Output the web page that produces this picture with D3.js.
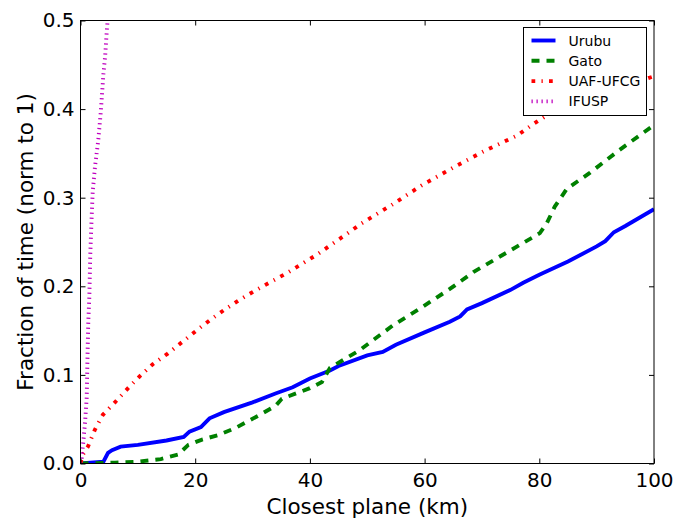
<!DOCTYPE html>
<html>
<head>
<meta charset="utf-8">
<script src="https://cdn.jsdelivr.net/npm/d3@7"></script>
<style>
  body { margin: 0; background: #fff; }
  text { font-family: "DejaVu Sans", sans-serif; }
</style>
</head>
<body>
<div id="chart"></div>
<script>
// data
const urubuKm = [0, 4, 4.8, 5.5, 7, 10, 15, 18, 19, 21, 22.5, 25, 30, 34, 37, 40, 43.5, 45, 50, 52.7, 55, 60, 64.4, 66.2, 67.4, 70, 75, 77.2, 80, 85, 90, 91.5, 93, 95, 100];
const urubuVal = [0, 0.002, 0.012, 0.015, 0.019, 0.021, 0.026, 0.030, 0.036, 0.041, 0.051, 0.058, 0.069, 0.079, 0.086, 0.096, 0.105, 0.110, 0.122, 0.126, 0.134, 0.148, 0.160, 0.166, 0.174, 0.181, 0.196, 0.204, 0.213, 0.228, 0.245, 0.251, 0.261, 0.268, 0.287];

const gatoKm = [0, 6, 10, 14, 17, 18.8, 21.2, 24, 27, 31, 34, 35.1, 40, 42.1, 43.5, 48.7, 54.5, 59.7, 64.4, 68.5, 74.3, 80.1, 81.3, 82.7, 84.8, 88.8, 94, 100];
const gatoVal = [0, 0.001, 0.002, 0.005, 0.010, 0.021, 0.027, 0.032, 0.040, 0.054, 0.065, 0.073, 0.085, 0.092, 0.108, 0.128, 0.156, 0.177, 0.197, 0.216, 0.238, 0.260, 0.271, 0.290, 0.310, 0.328, 0.354, 0.382];

const uafKm = [0, 0.4, 1.3, 2.5, 3.9, 6, 8.3, 10.4, 12.6, 15.2, 17.7, 20.2, 22.6, 25.2, 27.8, 30.4, 36, 41.3, 46.4, 49, 54.3, 59.5, 65, 70.5, 76.1, 78.7, 81.3, 86, 91, 95, 99, 100];
const uafVal = [0, 0.010, 0.019, 0.038, 0.055, 0.069, 0.085, 0.099, 0.112, 0.124, 0.137, 0.150, 0.162, 0.174, 0.185, 0.195, 0.215, 0.236, 0.259, 0.271, 0.292, 0.314, 0.334, 0.353, 0.370, 0.382, 0.393, 0.404, 0.416, 0.425, 0.435, 0.437];

const ifuspKm = [0, 0.2, 0.5, 0.8, 1.08, 1.25, 1.36, 1.54, 1.7, 1.95, 2.13, 2.53, 3.1, 3.55, 4.0, 4.3, 4.6, 4.8];
const ifuspVal = [0, 0.006, 0.025, 0.047, 0.074, 0.130, 0.160, 0.188, 0.235, 0.279, 0.307, 0.335, 0.365, 0.398, 0.440, 0.460, 0.490, 0.505];

const seriesNames = ["Urubu", "Gato", "UAF-UFCG", "IFUSP"];
const xTicks = [0, 20, 40, 60, 80, 100];
const yTicks = [0, 0.1, 0.2, 0.3, 0.4, 0.5];

const width = 677;
const height = 521;
const m = { left: 80.5, right: 654, top: 20.5, bottom: 463.5 };

const x = d3.scaleLinear().domain([0, 100]).range([m.left, m.right]);
const y = d3.scaleLinear().domain([0, 0.5]).range([m.bottom, m.top]);

const svg = d3.select("#chart").append("svg")
  .attr("width", width).attr("height", height);

svg.append("clipPath").attr("id", "clip")
  .append("rect")
  .attr("x", m.left).attr("y", m.top)
  .attr("width", m.right - m.left).attr("height", m.bottom - m.top);

// line styles (matplotlib classic look)
const styles = [
  { km: urubuKm, val: urubuVal, color: "#0000ff", dash: null },
  { km: gatoKm, val: gatoVal, color: "#008000", dash: "8,7" },
  { km: uafKm, val: uafVal, color: "#ff0000", dash: "3.75,6.25,1.25,6.25" },
  { km: ifuspKm, val: ifuspVal, color: "#bf00bf", dash: "1.25,3.75" }
];

const line = d3.line()
  .x(d => x(d[0]))
  .y(d => y(d[1]));

const plot = svg.append("g").attr("clip-path", "url(#clip)");
styles.forEach(s => {
  plot.append("path")
    .attr("fill", "none")
    .attr("stroke", s.color)
    .attr("stroke-width", 3.9)
    .attr("stroke-dasharray", s.dash)
    .attr("d", line(d3.zip(s.km, s.val)));
});

// axes, ticks pointing inwards
const fmtY = d3.format(".1f");
const styleAxis = g => {
  g.select(".domain").remove();
  g.selectAll(".tick line").attr("stroke", "#000");
  g.selectAll(".tick text")
    .attr("fill", "#000")
    .style("font-family", "'DejaVu Sans', sans-serif")
    .style("font-size", "20px");
};

svg.append("g").attr("transform", `translate(0,${m.bottom})`)
  .call(d3.axisBottom(x).tickValues(xTicks).tickSizeInner(-5).tickSizeOuter(0).tickPadding(9))
  .call(styleAxis);
svg.append("g").attr("transform", `translate(${m.left},0)`)
  .call(d3.axisLeft(y).tickValues(yTicks).tickFormat(fmtY).tickSizeInner(-5).tickSizeOuter(0).tickPadding(6))
  .call(styleAxis);
svg.append("g").attr("transform", `translate(0,${m.top})`)
  .call(d3.axisTop(x).tickValues(xTicks).tickFormat("").tickSizeInner(-5).tickSizeOuter(0))
  .call(styleAxis);
svg.append("g").attr("transform", `translate(${m.right},0)`)
  .call(d3.axisRight(y).tickValues(yTicks).tickFormat("").tickSizeInner(-5).tickSizeOuter(0))
  .call(styleAxis);

// frame
svg.append("rect")
  .attr("x", m.left).attr("y", m.top)
  .attr("width", m.right - m.left).attr("height", m.bottom - m.top)
  .attr("fill", "none").attr("stroke", "#000").attr("stroke-width", 1);

// axis labels
svg.append("text")
  .attr("x", (m.left + m.right) / 2).attr("y", 514)
  .attr("text-anchor", "middle")
  .style("font-size", "21.5px")
  .text("Closest plane (km)");
svg.append("text")
  .attr("transform", `translate(33,${(m.top + m.bottom) / 2}) rotate(-90)`)
  .attr("text-anchor", "middle")
  .style("font-size", "21.5px")
  .text("Fraction of time (norm to 1)");

// legend
const legend = svg.append("g").attr("transform", "translate(523.5,27.5)");
legend.append("rect")
  .attr("width", 123).attr("height", 88)
  .attr("fill", "#fff").attr("stroke", "#000").attr("stroke-width", 1);
seriesNames.forEach((name, i) => {
  const yy = 13 + i * 20.3;
  legend.append("line")
    .attr("x1", 8).attr("x2", 32).attr("y1", yy).attr("y2", yy)
    .attr("stroke", styles[i].color)
    .attr("stroke-width", 3.9)
    .attr("stroke-dasharray", styles[i].dash);
  legend.append("text")
    .attr("x", 45).attr("y", yy).attr("dy", "0.36em")
    .style("font-size", "14px")
    .text(name);
});
</script>
</body>
</html>
